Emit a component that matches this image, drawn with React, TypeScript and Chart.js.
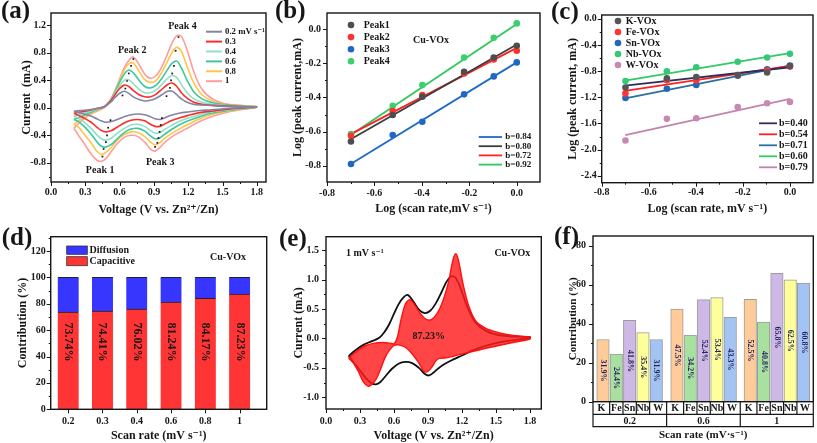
import React, { useEffect, useRef } from 'react';
import { Chart, registerables } from 'chart.js';

Chart.register(...registerables);

const FONT = '"Liberation Serif", "Times New Roman", "DejaVu Serif", serif';
const INK = '#161616';

/* ---------------- (a) CV curves at several scan rates ---------------- */
const CV_RATE_LABELS = ['0.2 mV s⁻¹', '0.3', '0.4', '0.6', '0.8', '1'];
const CV_COLORS = ['#8484a2', '#ff2b2b', '#8fe0c4', '#3cc79d', '#ffc548', '#ff9c9c'];
const V_UP = [0.20, 0.26, 0.33, 0.40, 0.47, 0.52, 0.56, 0.60, 0.64, 0.68, 0.72, 0.77, 0.82, 0.87, 0.92, 0.97, 1.02, 1.06, 1.10, 1.14, 1.19, 1.25, 1.32, 1.42, 1.55, 1.80];
const V_DN = [1.80, 1.55, 1.40, 1.30, 1.20, 1.12, 1.05, 0.99, 0.95, 0.91, 0.87, 0.82, 0.76, 0.70, 0.64, 0.58, 0.53, 0.48, 0.44, 0.40, 0.35, 0.29, 0.24, 0.20];
const I_UP_02 = [-0.05, -0.04, -0.03, -0.01, 0.02, 0.08, 0.15, 0.21, 0.24, 0.21, 0.16, 0.12, 0.10, 0.11, 0.14, 0.19, 0.24, 0.24, 0.19, 0.13, 0.08, 0.05, 0.04, 0.03, 0.02, 0.01];
const I_UP_03 = [-0.08, -0.06, -0.04, -0.01, 0.02, 0.10, 0.19, 0.28, 0.33, 0.31, 0.25, 0.19, 0.16, 0.16, 0.20, 0.27, 0.34, 0.36, 0.31, 0.22, 0.14, 0.08, 0.05, 0.035, 0.025, 0.01];
const I_UP_04 = [-0.12, -0.09, -0.06, -0.02, 0.02, 0.11, 0.21, 0.32, 0.40, 0.41, 0.35, 0.27, 0.22, 0.22, 0.26, 0.34, 0.43, 0.47, 0.44, 0.34, 0.22, 0.13, 0.08, 0.05, 0.03, 0.015];
const I_UP_06 = [-0.17, -0.13, -0.08, -0.03, 0.02, 0.11, 0.23, 0.37, 0.49, 0.55, 0.51, 0.40, 0.31, 0.29, 0.33, 0.43, 0.56, 0.65, 0.68, 0.58, 0.40, 0.23, 0.13, 0.07, 0.04, 0.015];
const I_UP_08 = [-0.24, -0.17, -0.10, -0.04, 0.015, 0.11, 0.24, 0.40, 0.55, 0.64, 0.65, 0.53, 0.41, 0.37, 0.40, 0.52, 0.68, 0.81, 0.88, 0.82, 0.60, 0.36, 0.19, 0.09, 0.045, 0.02];
const I_UP_1 = [-0.30, -0.20, -0.11, -0.05, 0.01, 0.12, 0.25, 0.42, 0.58, 0.69, 0.74, 0.63, 0.49, 0.43, 0.47, 0.60, 0.79, 0.95, 1.05, 1.04, 0.84, 0.52, 0.27, 0.12, 0.05, 0.02];
const I_DN_02 = [0.01, -0.01, -0.03, -0.04, -0.06, -0.08, -0.11, -0.15, -0.17, -0.16, -0.13, -0.10, -0.09, -0.10, -0.13, -0.17, -0.20, -0.21, -0.19, -0.16, -0.12, -0.09, -0.07, -0.05];
const I_DN_03 = [0.01, -0.02, -0.05, -0.07, -0.11, -0.15, -0.19, -0.24, -0.27, -0.27, -0.24, -0.19, -0.17, -0.18, -0.22, -0.28, -0.33, -0.35, -0.33, -0.28, -0.21, -0.15, -0.11, -0.08];
const I_DN_04 = [0.01, -0.03, -0.06, -0.10, -0.15, -0.20, -0.26, -0.32, -0.36, -0.37, -0.33, -0.27, -0.24, -0.25, -0.30, -0.37, -0.44, -0.47, -0.45, -0.39, -0.30, -0.21, -0.15, -0.12];
const I_DN_06 = [0.01, -0.04, -0.08, -0.13, -0.19, -0.25, -0.32, -0.39, -0.44, -0.45, -0.41, -0.34, -0.30, -0.31, -0.36, -0.45, -0.53, -0.57, -0.56, -0.49, -0.38, -0.27, -0.20, -0.17];
const I_DN_08 = [0.015, -0.05, -0.10, -0.16, -0.24, -0.31, -0.38, -0.45, -0.51, -0.54, -0.50, -0.42, -0.36, -0.35, -0.39, -0.47, -0.57, -0.65, -0.68, -0.63, -0.51, -0.38, -0.28, -0.24];
const I_DN_1 = [0.01, -0.06, -0.13, -0.20, -0.29, -0.36, -0.43, -0.51, -0.58, -0.63, -0.60, -0.50, -0.42, -0.40, -0.43, -0.52, -0.63, -0.74, -0.78, -0.76, -0.67, -0.52, -0.40, -0.30];
const CV_UP = [I_UP_02, I_UP_03, I_UP_04, I_UP_06, I_UP_08, I_UP_1];
const CV_DN = [I_DN_02, I_DN_03, I_DN_04, I_DN_06, I_DN_08, I_DN_1];
const PEAK_MARK_V = [0.625, 0.65, 0.665, 0.68, 0.70, 0.72, 1.01, 1.04, 1.05, 1.06, 1.075, 1.09, 1.115, 0.52, 0.50, 0.49, 0.48, 0.46, 0.45, 0.97, 0.96, 0.95, 0.94, 0.93, 0.91];
const PEAK_MARK_I = [0.18, 0.28, 0.39, 0.50, 0.61, 0.71, 0.17, 0.29, 0.40, 0.50, 0.61, 0.83, 1.03, -0.18, -0.29, -0.40, -0.50, -0.60, -0.71, -0.15, -0.25, -0.35, -0.44, -0.51, -0.57];
const PEAK_LABELS = ['Peak 1', 'Peak 2', 'Peak 3', 'Peak 4'];
const PEAK_LABEL_V = [0.43, 0.71, 0.955, 1.15];
const PEAK_LABEL_I = [-0.91, 0.84, -0.80, 1.18];

/* ---------------- (b) log i vs log v, Cu-VOx ---------------- */
const LOG_RATE = [-0.699, -0.523, -0.398, -0.222, -0.097, 0.0];
const B_NAMES = ['Peak1', 'Peak2', 'Peak3', 'Peak4'];
const B_PEAK1 = [-0.658, -0.503, -0.396, -0.25, -0.166, -0.098];
const B_PEAK2 = [-0.624, -0.48, -0.386, -0.26, -0.178, -0.127];
const B_PEAK3 = [-0.79, -0.62, -0.542, -0.382, -0.277, -0.195];
const B_PEAK4 = [-0.615, -0.449, -0.328, -0.166, -0.051, 0.033];
const B_POINTS = [B_PEAK1, B_PEAK2, B_PEAK3, B_PEAK4];
const B_POINT_COLORS = ['#4d4d4d', '#ff3030', '#2166c4', '#3ccf6e'];
const FIT_X = [-0.7, 0.0];
const B_FIT1 = [-0.645, -0.09];
const B_FIT2 = [-0.615, -0.11];
const B_FIT3 = [-0.79, -0.195];
const B_FIT4 = [-0.62, 0.03];
const B_FITS = [B_FIT3, B_FIT1, B_FIT2, B_FIT4];
const B_FIT_COLORS = ['#1e6bc6', '#3d3d3d', '#ff2020', '#2ec95c'];
const B_SLOPES = ['b=0.84', 'b=0.80', 'b=0.72', 'b=0.92'];

/* ---------------- (c) log i vs log v, other VOx ---------------- */
const C_NAMES = ['K-VOx', 'Fe-VOx', 'Sn-VOx', 'Nb-VOx', 'W-VOx'];
const C_K = [-1.05, -0.91, -0.89, -0.86, -0.82, -0.72];
const C_FE = [-1.14, -0.94, -0.94, -0.86, -0.79, -0.73];
const C_SN = [-1.21, -1.07, -1.01, -0.87, -0.77, -0.715];
const C_NB = [-0.95, -0.80, -0.74, -0.655, -0.59, -0.535];
const C_W = [-1.86, -1.53, -1.52, -1.35, -1.29, -1.27];
const C_POINTS = [C_K, C_FE, C_SN, C_NB, C_W];
const C_POINT_COLORS = ['#555555', '#ff3535', '#2268b8', '#36c878', '#c888b2'];
const C_FIT_K = [-1.02, -0.74];
const C_FIT_FE = [-1.10, -0.72];
const C_FIT_SN = [-1.215, -0.715];
const C_FIT_NB = [-0.945, -0.525];
const C_FIT_W = [-1.777, -1.225];
const C_FITS = [C_FIT_K, C_FIT_FE, C_FIT_SN, C_FIT_NB, C_FIT_W];
const C_FIT_COLORS = ['#2e2e5e', '#ff2020', '#2a6f9e', '#2ecc66', '#c284ae'];
const C_SLOPES = ['b=0.40', 'b=0.54', 'b=0.71', 'b=0.60', 'b=0.79'];

/* ---------------- (d) capacitive / diffusion contribution ---------------- */
const D_RATES = ['0.2', '0.3', '0.4', '0.6', '0.8', '1'];
const D_POS = [0, 1, 2, 3, 4, 5];
const D_CAP = [73.74, 74.41, 76.02, 81.24, 84.17, 87.23];
const D_DIF = [26.26, 25.59, 23.98, 18.76, 15.83, 12.77];

/* ---------------- (e) capacitive share of the 1 mV/s CV ---------------- */
const E_CAP_V = [0.20, 0.27, 0.35, 0.43, 0.50, 0.56, 0.60, 0.63, 0.66, 0.70, 0.74, 0.78, 0.83, 0.88, 0.93, 0.98, 1.03, 1.08, 1.12, 1.145, 1.17, 1.21, 1.26, 1.32, 1.41, 1.52, 1.65, 1.80,
  1.80, 1.65, 1.45, 1.30, 1.17, 1.06, 1.00, 0.97, 0.93, 0.89, 0.86, 0.82, 0.76, 0.70, 0.64, 0.60, 0.56, 0.52, 0.48, 0.44, 0.40, 0.37, 0.33, 0.29, 0.25, 0.22, 0.20];
const E_CAP_I = [-0.34, -0.22, -0.12, -0.08, -0.07, -0.08, -0.09, 0.02, 0.30, 0.58, 0.66, 0.58, 0.43, 0.33, 0.32, 0.42, 0.63, 0.95, 1.33, 1.44, 1.32, 0.92, 0.55, 0.30, 0.17, 0.10, 0.05, 0.02,
  -0.01, -0.07, -0.15, -0.22, -0.28, -0.33, -0.34, -0.38, -0.50, -0.57, -0.55, -0.42, -0.26, -0.15, -0.11, -0.12, -0.20, -0.33, -0.53, -0.70, -0.79, -0.81, -0.74, -0.58, -0.44, -0.37, -0.34];

/* ---------------- (f) capacitive contribution of M-VOx ---------------- */
const F_METALS = ['K', 'Fe', 'Sn', 'Nb', 'W'];
const F_RATES = ['0.2', '0.6', '1'];
const F_VAL_02 = [31.9, 24.4, 41.8, 35.4, 31.9];
const F_VAL_06 = [47.5, 34.2, 52.4, 53.4, 43.3];
const F_VAL_1 = [52.5, 40.8, 65.8, 62.5, 60.8];
const F_POS = [0.75, 1.75, 2.75, 3.75, 4.75, 6.3, 7.3, 8.3, 9.3, 10.3, 11.8, 12.8, 13.8, 14.8, 15.8];
const F_COLORS = ['#ffcc99', '#a8e0a0', '#cdb8e6', '#ffff99', '#a3c4f3'];

/* ---------------- helpers ---------------- */
function txt(ctx: any, s: string, x: number, y: number, size: number, align = 'left', color = INK, rot = 0) {
  ctx.save();
  ctx.translate(x, y);
  if (rot) ctx.rotate(rot);
  ctx.font = `bold ${size}px ${FONT}`;
  ctx.fillStyle = color;
  ctx.textAlign = align;
  ctx.textBaseline = 'middle';
  ctx.fillText(s, 0, 0);
  ctx.restore();
}

function axis(o: any) {
  return {
    type: 'linear',
    min: o.min,
    max: o.max,
    offset: false,
    stacked: !!o.stacked,
    afterBuildTicks: (s: any) => { s.ticks = o.ticks.map((v: number) => ({ value: v })); },
    afterFit: (s: any) => {
      if (o.h) s.height = o.size; else s.width = o.size;
      s.paddingLeft = 0; s.paddingRight = 0; s.paddingTop = 0; s.paddingBottom = 0;
    },
    grid: { display: false, drawTicks: false },
    border: { display: false },
    ticks: {
      display: o.labels !== false,
      padding: o.pad,
      autoSkip: false,
      maxRotation: 0,
      minRotation: 0,
      color: INK,
      font: { family: FONT, size: 10, weight: 'bold' },
      callback: (v: any) => (o.fmt ? o.fmt(Number(v)) : String(v)),
    },
    title: {
      display: true,
      text: o.title,
      color: INK,
      font: { family: FONT, size: o.tsize || 12, weight: 'bold' },
      padding: o.h ? { top: 0, bottom: o.tpad } : { top: o.tpad, bottom: 0 },
    },
  };
}

const f1 = (v: number) => v.toFixed(1);

function baseOptions(pad: any, x: any, y: any) {
  return {
    responsive: false,
    animation: false,
    devicePixelRatio: 1,
    events: [],
    layout: { padding: { left: 0, bottom: 0, top: pad.top, right: pad.right } },
    plugins: { legend: { display: false }, tooltip: { enabled: false } },
    scales: { x, y },
  };
}

function frame(o: any) {
  return {
    id: 'frame',
    afterDatasetsDraw(chart: any) {
      const { ctx, chartArea: ca, scales } = chart;
      const sx = scales.x, sy = scales.y;
      ctx.save();
      ctx.strokeStyle = INK;
      ctx.lineWidth = 1;
      const marks = (scale: any, mode: string, horiz: boolean) => {
        if (mode === 'none') return;
        const vals = scale.ticks.map((t: any) => t.value);
        const list: number[][] = vals.map((v: number) => [v, 4]);
        if (mode === 'both' && vals.length > 1) {
          const step = vals[1] - vals[0];
          for (let i = 0; i < vals.length - 1; i++) list.push([(vals[i] + vals[i + 1]) / 2, 2]);
          if (vals[0] - step / 2 >= scale.min) list.push([vals[0] - step / 2, 2]);
          const last = vals[vals.length - 1];
          if (last + step / 2 <= scale.max) list.push([last + step / 2, 2]);
        }
        ctx.beginPath();
        for (const [v, len] of list) {
          const p = Math.round(scale.getPixelForValue(v)) + 0.5;
          if (horiz) { ctx.moveTo(p, ca.bottom); ctx.lineTo(p, ca.bottom + len); }
          else { ctx.moveTo(ca.left, p); ctx.lineTo(ca.left - len, p); }
        }
        ctx.stroke();
      };
      marks(sx, o.xTicks || 'both', true);
      marks(sy, o.yTicks || 'both', false);
      if (o.draw) o.draw(ctx, chart, sx, sy, ca);
      ctx.strokeStyle = INK;
      ctx.lineWidth = 1.4;
      ctx.strokeRect(ca.left, ca.top, ca.right - ca.left, ca.bottom - ca.top);
      txt(ctx, o.label, o.lx, o.ly, 25, 'left');
      ctx.restore();
    },
  };
}

const pts = (xs: number[], ys: number[]) => xs.map((x, i) => ({ x, y: ys[i] }));

/* ---------------- panel configs ---------------- */
function configA() {
  const datasets: any[] = CV_UP.map((up, k) => ({
    data: pts(V_UP, up).concat(pts(V_DN, CV_DN[k])),
    borderColor: CV_COLORS[k],
    borderWidth: 1.6,
    pointRadius: 0,
    tension: 0.35,
    fill: false,
  }));
  datasets.unshift({ data: pts(PEAK_MARK_V, PEAK_MARK_I), showLine: false, pointRadius: 1.2, pointStyle: 'rect', backgroundColor: INK, borderWidth: 0 });
  return {
    type: 'line',
    data: { datasets },
    options: baseOptions(
      { top: 13, right: 6 },
      axis({ h: true, min: 0, max: 1.88, ticks: [0, 0.3, 0.6, 0.9, 1.2, 1.5, 1.8], fmt: f1, size: 38, pad: 4.7, title: 'Voltage (V vs. Zn²⁺/Zn)', tpad: 2.8 }),
      axis({ min: -1.08, max: 1.38, ticks: [-0.8, -0.4, 0, 0.4, 0.8, 1.2], fmt: f1, size: 51, pad: 5, title: 'Current  (mA)', tpad: 19.8 }),
    ),
    plugins: [frame({
      label: '(a)', lx: 1, ly: 11.7,
      draw: (ctx: any, chart: any, sx: any, sy: any) => {
        PEAK_LABELS.forEach((s, i) => txt(ctx, s, sx.getPixelForValue(PEAK_LABEL_V[i]), sy.getPixelForValue(PEAK_LABEL_I[i]), 10, 'center'));
        CV_RATE_LABELS.forEach((s, k) => {
          const y = 31.7 + k * 9.9;
          ctx.strokeStyle = CV_COLORS[k];
          ctx.lineWidth = 2;
          ctx.beginPath(); ctx.moveTo(206, y); ctx.lineTo(222, y); ctx.stroke();
          txt(ctx, s, 225, y, 8.8, 'left');
        });
      },
    })],
  };
}

function configB() {
  const datasets: any[] = [];
  B_POINTS.forEach((ys, k) => datasets.push({ data: pts(LOG_RATE, ys), showLine: false, pointRadius: 3.3, backgroundColor: B_POINT_COLORS[k], borderWidth: 0 }));
  B_FITS.forEach((ys, k) => datasets.push({ data: pts(FIT_X, ys), borderColor: B_FIT_COLORS[k], borderWidth: 1.8, pointRadius: 0, fill: false }));
  return {
    type: 'line',
    data: { datasets },
    options: baseOptions(
      { top: 13, right: 3.3 },
      axis({ h: true, min: -0.8, max: 0.098, ticks: [-0.8, -0.6, -0.4, -0.2, 0], fmt: f1, size: 38, pad: 5.3, title: 'Log (scan rate,mV s⁻¹)', tpad: 3.5 }),
      axis({ min: -0.895, max: 0.094, ticks: [-0.8, -0.6, -0.4, -0.2, 0], fmt: f1, size: 55, pad: 6, title: 'Log (peak current,mA)', tpad: 19 }),
    ),
    plugins: [frame({
      label: '(b)', lx: 3, ly: 11.7,
      draw: (ctx: any) => {
        B_NAMES.forEach((s, k) => {
          const y = 25 + k * 12.1;
          ctx.fillStyle = B_POINT_COLORS[k];
          ctx.beginPath(); ctx.arc(79, y, 3.3, 0, Math.PI * 2); ctx.fill();
          txt(ctx, s, 91.7, y, 10, 'left');
        });
        txt(ctx, 'Cu-VOx', 159, 40.3, 10, 'center');
        B_SLOPES.forEach((s, k) => {
          const y = 137 + k * 9.2;
          ctx.strokeStyle = B_FIT_COLORS[k];
          ctx.lineWidth = 1.8;
          ctx.beginPath(); ctx.moveTo(206.7, y); ctx.lineTo(230, y); ctx.stroke();
          txt(ctx, s, 233.3, y, 9, 'left');
        });
      },
    })],
  };
}

function configC() {
  const datasets: any[] = [];
  C_POINTS.forEach((ys, k) => datasets.push({ data: pts(LOG_RATE, ys), showLine: false, pointRadius: 3.3, backgroundColor: C_POINT_COLORS[k], borderWidth: 0 }));
  C_FITS.forEach((ys, k) => datasets.push({ data: pts(FIT_X, ys), borderColor: C_FIT_COLORS[k], borderWidth: 1.8, pointRadius: 0, fill: false }));
  return {
    type: 'line',
    data: { datasets },
    options: baseOptions(
      { top: 15, right: 4 },
      axis({ h: true, min: -0.8, max: 0.098, ticks: [-0.8, -0.6, -0.4, -0.2, 0], fmt: f1, size: 37.3, pad: 4, title: 'Log (scan rate, mV s⁻¹)', tpad: 3.5 }),
      axis({ min: -2.507, max: 0.06, ticks: [-2.4, -2.0, -1.6, -1.2, -0.8, -0.4, 0], fmt: f1, size: 57.7, pad: 5, title: 'Log (peak current, mA)', tpad: 21.8 }),
    ),
    plugins: [frame({
      label: '(c)', lx: 7, ly: 12.2,
      draw: (ctx: any) => {
        C_NAMES.forEach((s, k) => {
          const y = 21 + k * 11;
          ctx.fillStyle = C_POINT_COLORS[k];
          ctx.beginPath(); ctx.arc(74, y, 3.3, 0, Math.PI * 2); ctx.fill();
          txt(ctx, s, 81.7, y, 10, 'left');
        });
        C_SLOPES.forEach((s, k) => {
          const y = 123.3 + k * 11;
          ctx.strokeStyle = C_FIT_COLORS[k];
          ctx.lineWidth = 1.8;
          ctx.beginPath(); ctx.moveTo(215, y); ctx.lineTo(233, y); ctx.stroke();
          txt(ctx, s, 235, y, 10, 'left');
        });
      },
    })],
  };
}

const D_RED = '#ff3434';
const D_BLUE = '#3636ff';

function configD() {
  return {
    type: 'bar',
    data: {
      datasets: [
        { label: 'Capacitive', data: pts(D_POS, D_CAP), backgroundColor: D_RED, borderColor: '#222', borderWidth: { top: 1, left: 0, right: 0, bottom: 0 }, borderSkipped: 'start', barThickness: 21 },
        { label: 'Diffusion', data: pts(D_POS, D_DIF), backgroundColor: D_BLUE, borderColor: '#222', borderWidth: { top: 1, left: 0, right: 0, bottom: 0 }, borderSkipped: 'start', barThickness: 21 },
      ],
    },
    options: baseOptions(
      { top: 16.7, right: 5.3 },
      axis({ h: true, stacked: true, min: -0.51, max: 5.79, ticks: D_POS, fmt: (v: number) => D_RATES[D_POS.indexOf(v)] ?? '', size: 33.7, pad: 6.4, title: 'Scan rate (mV s⁻¹)', tpad: 0 }),
      axis({ stacked: true, min: 0, max: 130.8, ticks: [0, 20, 40, 60, 80, 100, 120], fmt: (v: number) => String(v), size: 50.7, pad: 5, title: 'Contribution (%)', tpad: 16.1 }),
    ),
    plugins: [frame({
      label: '(d)', lx: 1.7, ly: 18.8, xTicks: 'major',
      draw: (ctx: any, chart: any, sx: any, sy: any) => {
        D_POS.forEach((p, i) => txt(ctx, D_CAP[i].toFixed(2) + '%', sx.getPixelForValue(p), sy.getPixelForValue(51), 12, 'center', INK, Math.PI / 2));
        ctx.lineWidth = 0.8;
        ctx.strokeStyle = '#333';
        ctx.fillStyle = D_BLUE;
        ctx.fillRect(66.7, 26, 20.6, 8.3); ctx.strokeRect(66.7, 26, 20.6, 8.3);
        ctx.fillStyle = D_RED;
        ctx.fillRect(66.7, 36.7, 20.6, 9); ctx.strokeRect(66.7, 36.7, 20.6, 9);
        txt(ctx, 'Diffusion', 89.5, 30.7, 10, 'left');
        txt(ctx, 'Capacitive', 89.5, 41.7, 10, 'left');
        txt(ctx, 'Cu-VOx', 228, 37.3, 10, 'center');
      },
    })],
  };
}

function configE() {
  return {
    type: 'line',
    data: {
      datasets: [
        { data: pts(E_CAP_V, E_CAP_I), borderColor: '#ff1010', borderWidth: 1.4, backgroundColor: 'rgba(255,28,28,0.82)', fill: 'shape', tension: 0.3, pointRadius: 0 },
        { data: pts(V_UP, I_UP_1).concat(pts(V_DN, I_DN_1)), borderColor: '#111', borderWidth: 1.8, fill: false, tension: 0.35, pointRadius: 0 },
      ],
    },
    options: baseOptions(
      { top: 16.7, right: 2.7 },
      axis({ h: true, min: 0, max: 1.9, ticks: [0, 0.3, 0.6, 0.9, 1.2, 1.5, 1.8], fmt: f1, size: 34, pad: 6.7, title: 'Voltage (V vs. Zn²⁺/Zn)', tpad: 0 }),
      axis({ min: -1.2, max: 1.73, ticks: [-1.0, -0.5, 0, 0.5, 1.0, 1.5], fmt: f1, size: 54, pad: 7, title: 'Current (mA)', tpad: 19.5 }),
    ),
    plugins: [frame({
      label: '(e)', lx: 7, ly: 19.2,
      draw: (ctx: any) => {
        txt(ctx, '1 mV s⁻¹', 74, 33.3, 10, 'left');
        txt(ctx, 'Cu-VOx', 258.3, 33.3, 10, 'right');
        txt(ctx, '87.23%', 156.7, 116.7, 10, 'center');
      },
    })],
  };
}

function configF() {
  const vals = F_VAL_02.concat(F_VAL_06, F_VAL_1);
  const colors = F_POS.map((_, i) => F_COLORS[i % F_METALS.length]);
  return {
    type: 'bar',
    data: {
      datasets: [
        { data: pts(F_POS, vals), backgroundColor: colors, borderColor: '#9c9c9c', borderWidth: 1, borderSkipped: false, barThickness: 12.5 },
      ],
    },
    options: baseOptions(
      { top: 16, right: 3.7 },
      axis({ h: true, min: 0, max: 16.53, ticks: F_POS, labels: false, size: 41.3, pad: 0, title: 'Scan rate (mV·s⁻¹)', tpad: 1.4, tsize: 11 }),
      axis({ min: 0, max: 85, ticks: [0, 20, 40, 60, 80], fmt: (v: number) => String(v), size: 49, pad: 7, title: 'Contribution (%)', tpad: 22.7, tsize: 11 }),
    ),
    plugins: [frame({
      label: '(f)', lx: 10, ly: 17.5, xTicks: 'none',
      draw: (ctx: any, chart: any, sx: any, sy: any, ca: any) => {
        F_POS.forEach((p, i) => txt(ctx, vals[i].toFixed(1) + '%', sx.getPixelForValue(p), sy.getPixelForValue(vals[i] / 2), 8, 'center', '#262660', Math.PI / 2));
        const r1 = ca.bottom + 12.6, r2 = ca.bottom + 25;
        const edges: number[] = [ca.left];
        for (let i = 0; i < F_POS.length - 1; i++) edges.push(sx.getPixelForValue((F_POS[i] + F_POS[i + 1]) / 2));
        edges.push(ca.right);
        ctx.strokeStyle = INK;
        ctx.lineWidth = 1.2;
        ctx.beginPath();
        ctx.moveTo(ca.left, ca.bottom); ctx.lineTo(ca.left, r2); ctx.lineTo(ca.right, r2); ctx.lineTo(ca.right, ca.bottom);
        ctx.moveTo(ca.left, r1); ctx.lineTo(ca.right, r1);
        for (let i = 1; i < edges.length - 1; i++) {
          const groupEnd = i % F_METALS.length === 0;
          ctx.moveTo(edges[i], ca.bottom); ctx.lineTo(edges[i], groupEnd ? r2 : r1);
        }
        ctx.stroke();
        F_POS.forEach((_, i) => txt(ctx, F_METALS[i % F_METALS.length], (edges[i] + edges[i + 1]) / 2, (ca.bottom + r1) / 2 + 0.5, 10, 'center'));
        F_RATES.forEach((s, g) => txt(ctx, s, (edges[g * 5] + edges[g * 5 + 5]) / 2, (r1 + r2) / 2 + 0.5, 10, 'center'));
      },
    })],
  };
}

function Panel({ left, top, width, height, make }: any) {
  const ref = useRef<HTMLCanvasElement>(null);
  useEffect(() => {
    const chart = new Chart(ref.current as any, make());
    return () => chart.destroy();
  }, []);
  return <canvas ref={ref} width={width} height={height} style={{ position: 'absolute', left, top, width, height }} />;
}

export default function App() {
  return (
    <div style={{ position: 'absolute', left: 0, top: 0, width: 817, height: 443, background: '#fff', overflow: 'hidden' }}>
      <Panel left={0} top={0} width={272} height={220} make={configA} />
      <Panel left={272} top={0} width={272} height={220} make={configB} />
      <Panel left={544} top={0} width={273} height={220} make={configC} />
      <Panel left={0} top={220} width={272} height={223} make={configD} />
      <Panel left={272} top={220} width={272} height={223} make={configE} />
      <Panel left={544} top={220} width={273} height={223} make={configF} />
    </div>
  );
}
